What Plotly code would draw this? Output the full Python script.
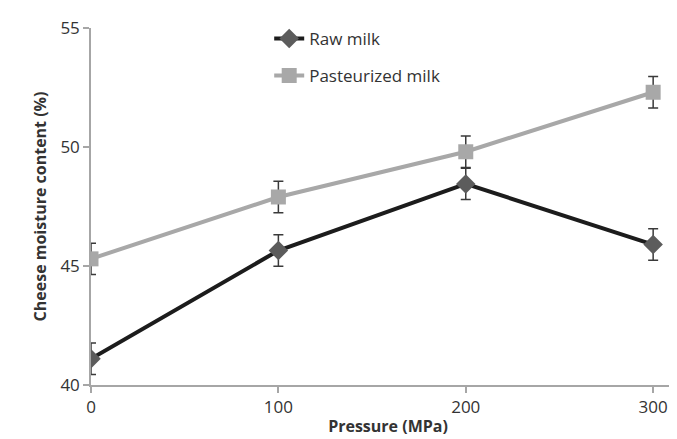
import plotly.graph_objects as go

pressure = [0, 100, 200, 300]
raw_milk = [41.1, 45.65, 48.45, 45.9]
raw_err = [0.66, 0.66, 0.66, 0.66]
past_milk = [45.3, 47.9, 49.8, 52.3]
past_err = [0.66, 0.66, 0.66, 0.66]
y_ticks = [40, 45, 50, 55]
x_ticks = [0, 100, 200, 300]

font_family = "Open Sans, Liberation Sans, Arial, sans-serif"

fig = go.Figure()
fig.add_trace(go.Scatter(
    x=pressure, y=raw_milk, name="Raw milk", mode="lines+markers",
    legendgroup="a",
    line=dict(color="#1c1c1c", width=4),
    marker=dict(symbol="diamond", size=15, color="#5c5c5c", line=dict(width=0)),
    error_y=dict(type="data", array=raw_err, visible=True, color="#3a3a3a", thickness=1.5, width=5),
))
fig.add_trace(go.Scatter(
    x=pressure, y=past_milk, name="Pasteurized milk", mode="lines+markers",
    legendgroup="b",
    line=dict(color="#a8a8a8", width=4),
    marker=dict(symbol="square", size=15, color="#a8a8a8", line=dict(width=0)),
    error_y=dict(type="data", array=past_err, visible=True, color="#3a3a3a", thickness=1.5, width=5),
))

fig.update_layout(
    width=677, height=439,
    margin=dict(l=83, r=0, t=20, b=62),
    paper_bgcolor="white", plot_bgcolor="white",
    font=dict(family=font_family, color="#333333", size=16),
    legend=dict(x=0.3, y=1.02, xanchor="left", yanchor="top",
                bgcolor="rgba(0,0,0,0)", font=dict(size=17, color="#333333"),
                tracegroupgap=12),
    xaxis=dict(
        range=[0, 317], tickvals=x_ticks, ticktext=[str(v) for v in x_ticks],
        showgrid=False, zeroline=False, showline=True, linecolor="#a6a6a6", linewidth=1.5,
        ticks="outside", ticklen=6, tickcolor="#a6a6a6", tickwidth=1.5,
        tickfont=dict(size=17, color="#333333"),
        title=dict(text="<b>Pressure (MPa)</b>", font=dict(size=16, color="#333333"), standoff=4),
    ),
    yaxis=dict(
        range=[40, 55], tickvals=y_ticks, ticktext=[str(v) for v in y_ticks],
        showgrid=False, zeroline=False, showline=True, linecolor="#a6a6a6", linewidth=1.5,
        ticks="outside", ticklen=6, tickcolor="#a6a6a6", tickwidth=1.5,
        tickfont=dict(size=17, color="#333333"),
        title=dict(text="<b>Cheese moisture content (%)</b>", font=dict(size=16, color="#333333"), standoff=10),
    ),
)

fig.write_html("out.html")
